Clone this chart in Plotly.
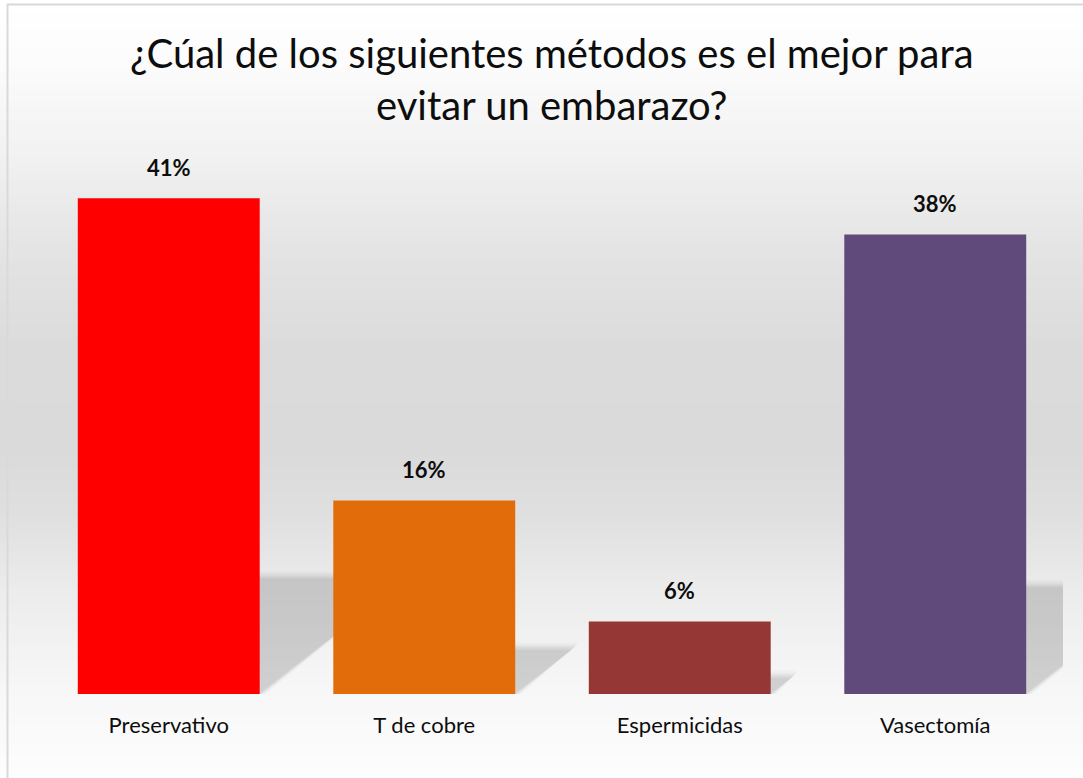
import plotly.graph_objects as go

categories = ["Preservativo", "T de cobre", "Espermicidas", "Vasectomía"]
values = [41, 16, 6, 38]
labels = ["41%", "16%", "6%", "38%"]
colors = ["#FF0000", "#E36C0A", "#953735", "#604A7B"]
title_text = "¿Cúal de los siguientes métodos es el mejor para<br>evitar un embarazo?"

W, H = 1083, 778
ML, MR, MT, MB = 41, 20, 150, 84
PW = W - ML - MR
PH = H - MT - MB
YMAX = 45
FONT = "Lato, 'Open Sans', sans-serif"
BAR_W = 0.712

xs = list(range(len(categories)))

fig = go.Figure()
fig.add_trace(go.Bar(
    x=xs, y=values, width=BAR_W,
    marker=dict(color=colors, line=dict(width=0)),
    hoverinfo="skip", showlegend=False,
))

shapes = []

# background vertical gradient (decoration)
stops = [(0, 255), (60, 252), (150, 242), (250, 228), (350, 219), (450, 218),
         (520, 224), (600, 237), (690, 247), (778, 253)]
def shade(py):
    for (a, ca), (b, cb) in zip(stops, stops[1:]):
        if a <= py <= b:
            t = (py - a) / (b - a)
            return round(ca + (cb - ca) * t)
    return 253
band = 6
for py in range(0, H, band):
    c = shade(py + band / 2)
    shapes.append(dict(type="rect", xref="paper", yref="paper", layer="below",
                       x0=(0 - ML) / PW, x1=(W - ML) / PW,
                       y0=(H - MB - (py + band + 1)) / PH, y1=(H - MB - py) / PH,
                       fillcolor=f"rgb({c},{c},{c})", line=dict(width=0)))

# perspective shadows behind bars (derived from data values)
px_per_cat = PW / len(categories)
px_per_unit = PH / YMAX
layers = [(0.024, 0.025), (0.016, 0.03), (0.010, 0.035), (0.005, 0.04),
          (0.0, 0.04), (-0.005, 0.04)]
for i, v in enumerate(values):
    hw = BAR_W / 2
    off = 0.30 * v * px_per_unit / px_per_cat
    top = 0.235 * v
    for d, a in layers:
        dy = d * 22
        path = (f"M {i - hw + d},{0} L {i + hw + d},{0} "
                f"L {i + hw + off + d},{top + dy} L {i - hw + off - d},{top + dy} Z")
        shapes.append(dict(type="path", xref="x", yref="y", layer="below", path=path,
                           fillcolor=f"rgba(60,60,60,{a})", line=dict(width=0)))

# chart border
shapes.append(dict(type="rect", xref="paper", yref="paper", layer="above",
                   x0=(7.5 - ML) / PW, x1=(1095 - ML) / PW,
                   y0=(H - MB - 795) / PH, y1=(H - MB - 4.5) / PH,
                   line=dict(color="#D9D9D9", width=2), fillcolor="rgba(0,0,0,0)"))

annotations = []
for i, (v, t) in enumerate(zip(values, labels)):
    annotations.append(dict(x=i, y=v, xref="x", yref="y", text=f"<b>{t}</b>",
                            showarrow=False, yanchor="middle", yshift=31,
                            font=dict(family=FONT, size=22, color="#0D0D0D")))
annotations.append(dict(x=0.5, y=(H - MB - 79) / PH, xref="paper", yref="paper",
                        text=title_text, showarrow=False, xanchor="center", yanchor="middle",
                        font=dict(family=FONT, size=40, color="#0D0D0D")))

fig.update_layout(
    width=W, height=H,
    margin=dict(l=ML, r=MR, t=MT, b=MB, autoexpand=False),
    paper_bgcolor="white", plot_bgcolor="rgba(0,0,0,0)",
    shapes=shapes, annotations=annotations,
    bargap=1 - BAR_W,
    xaxis=dict(range=[-0.5, len(categories) - 0.5], tickvals=xs, ticktext=categories,
               showgrid=False, zeroline=False, showline=False,
               ticks="outside", ticklen=12, tickcolor="rgba(0,0,0,0)",
               tickfont=dict(family=FONT, size=22, color="#0D0D0D"), fixedrange=True),
    yaxis=dict(range=[0, YMAX], visible=False, showgrid=False, zeroline=False, fixedrange=True),
    font=dict(family=FONT),
)

fig.write_html("out.html", config={"displayModeBar": False},
               post_script="document.body.style.margin='0';")
